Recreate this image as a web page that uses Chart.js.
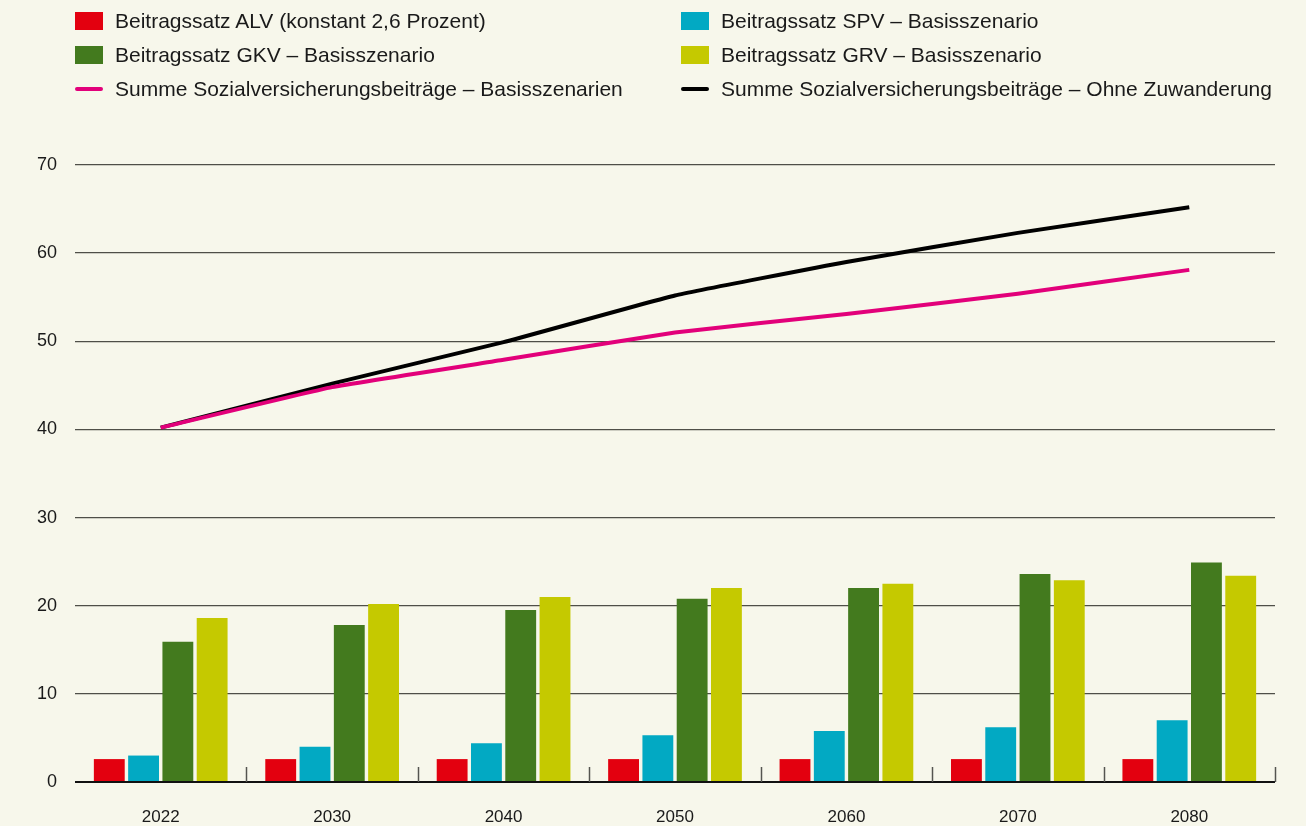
<!DOCTYPE html>
<html lang="de">
<head>
<meta charset="utf-8">
<script src="https://cdn.jsdelivr.net/npm/chart.js@4/dist/chart.umd.min.js"></script>
<style>
  html, body { margin: 0; padding: 0; background: #f7f7eb; }
  body { width: 1306px; height: 826px; position: relative; overflow: hidden; font-family: "Liberation Sans", Arial, sans-serif; color: #1a1a1a; }
  #wrap { position: absolute; left: 0; top: 0; width: 1306px; height: 826px; }
  .leg { position: absolute; font-size: 21px; line-height: 24px; white-space: nowrap; }
  .leg .sw { position: absolute; left: 0; top: 3px; width: 28px; height: 18px; }
  .leg .ln { position: absolute; left: 0; top: 10px; width: 28px; height: 4px; border-radius: 2px; }
  .leg span.t { position: absolute; left: 40px; top: 0; }
</style>
</head>
<body>
<div id="wrap"><canvas id="chart" width="1306" height="826"></canvas></div>
<div id="legend"></div>
<script>
// Kategorien und Werte (in Prozent)
const jahre = ['2022', '2030', '2040', '2050', '2060', '2070', '2080'];
const alv = [2.6, 2.6, 2.6, 2.6, 2.6, 2.6, 2.6];
const spv = [3.0, 4.0, 4.4, 5.3, 5.8, 6.2, 7.0];
const gkv = [15.9, 17.8, 19.5, 20.8, 22.0, 23.6, 24.9];
const grv = [18.6, 20.2, 21.0, 22.0, 22.5, 22.9, 23.4];
const summeBasis = [40.2, 44.8, 47.9, 51.0, 53.1, 55.4, 58.1];
const summeOhneZuw = [40.2, 45.2, 49.9, 55.2, 59.0, 62.3, 65.2];
const yTicks = [0, 10, 20, 30, 40, 50, 60, 70];

const farben = {
    alv: '#e3000f',
    spv: '#02a9c3',
    gkv: '#437a1e',
    grv: '#c5c900',
    basis: '#e2007a',
    ohne: '#000000'
};

// Legende (zwei Spalten, wie im Original)
const legendItems = [
    { text: 'Beitragssatz ALV (konstant 2,6 Prozent)', color: farben.alv, typ: 'box', x: 75, y: 9 },
    { text: 'Beitragssatz GKV – Basisszenario', color: farben.gkv, typ: 'box', x: 75, y: 43 },
    { text: 'Summe Sozialversicherungsbeiträge – Basisszenarien', color: farben.basis, typ: 'line', x: 75, y: 77 },
    { text: 'Beitragssatz SPV – Basisszenario', color: farben.spv, typ: 'box', x: 681, y: 9 },
    { text: 'Beitragssatz GRV – Basisszenario', color: farben.grv, typ: 'box', x: 681, y: 43 },
    { text: 'Summe Sozialversicherungsbeiträge – Ohne Zuwanderung', color: farben.ohne, typ: 'line', x: 681, y: 77 }
];
const legendEl = document.getElementById('legend');
legendItems.forEach(item => {
    const div = document.createElement('div');
    div.className = 'leg';
    div.style.left = item.x + 'px';
    div.style.top = item.y + 'px';
    const sw = document.createElement('div');
    sw.className = item.typ === 'box' ? 'sw' : 'ln';
    sw.style.background = item.color;
    const t = document.createElement('span');
    t.className = 't';
    t.textContent = item.text;
    div.appendChild(sw);
    div.appendChild(t);
    legendEl.appendChild(div);
});

// kleine Striche an den Kategoriegrenzen, nach oben von der Achse
const grenzStriche = {
    id: 'grenzStriche',
    afterDatasetsDraw(chart) {
        const x = chart.scales.x;
        const area = chart.chartArea;
        const ctx = chart.ctx;
        ctx.save();
        ctx.strokeStyle = '#555550';
        ctx.lineWidth = 1.5;
        for (let i = 0; i < jahre.length; i++) {
            const px = i < jahre.length - 1
                ? (x.getPixelForValue(i) + x.getPixelForValue(i + 1)) / 2
                : area.right;
            ctx.beginPath();
            ctx.moveTo(Math.round(px) + 0.5, area.bottom - 15);
            ctx.lineTo(Math.round(px) + 0.5, area.bottom);
            ctx.stroke();
        }
        ctx.restore();
    }
};

const ctx = document.getElementById('chart').getContext('2d');
new Chart(ctx, {
    type: 'bar',
    data: {
        labels: jahre,
        datasets: [
            { type: 'line', label: 'Summe – Ohne Zuwanderung', data: summeOhneZuw, borderColor: farben.ohne, borderWidth: 4, pointRadius: 0, tension: 0.1, order: 1 },
            { type: 'line', label: 'Summe – Basisszenarien', data: summeBasis, borderColor: farben.basis, borderWidth: 4, pointRadius: 0, tension: 0.1, order: 0 },
            { label: 'ALV', data: alv, backgroundColor: farben.alv, order: 2 },
            { label: 'SPV', data: spv, backgroundColor: farben.spv, order: 2 },
            { label: 'GKV', data: gkv, backgroundColor: farben.gkv, order: 2 },
            { label: 'GRV', data: grv, backgroundColor: farben.grv, order: 2 }
        ]
    },
    options: {
        responsive: false,
        animation: false,
        devicePixelRatio: 1,
        datasets: {
            bar: { categoryPercentage: 0.8, barPercentage: 0.9 }
        },
        layout: { padding: { top: 165, right: 31, left: 0, bottom: 0 } },
        plugins: {
            legend: { display: false },
            tooltip: { enabled: false }
        },
        scales: {
            x: {
                grid: { display: false },
                border: { display: false },
                ticks: {
                    color: '#1a1a1a',
                    padding: 17,
                    font: { family: 'Liberation Sans', size: 17 }
                },
                afterFit: s => { s.height = 44; }
            },
            y: {
                min: 0,
                max: 70,
                afterBuildTicks: s => { s.ticks = yTicks.map(v => ({ value: v })); },
                grid: {
                    drawTicks: false,
                    color: c => c.tick.value === 0 ? '#111111' : '#4f4f48',
                    lineWidth: c => c.tick.value === 0 ? 2 : 1.3
                },
                border: { display: false },
                ticks: {
                    color: '#1a1a1a',
                    padding: 18,
                    font: { family: 'Liberation Sans', size: 18 }
                },
                afterFit: s => { s.width = 75; }
            }
        }
    },
    plugins: [grenzStriche]
});
</script>
</body>
</html>
